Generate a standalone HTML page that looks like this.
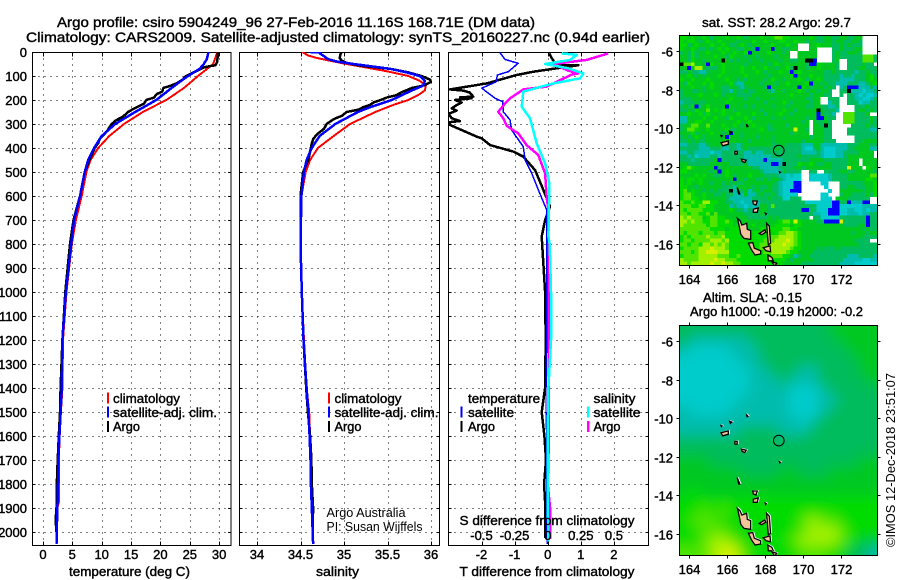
<!DOCTYPE html>
<html lang="en">
<head>
<meta charset="utf-8">
<title>Argo profile csiro 5904249_96</title>
<style>
html,body{margin:0;padding:0;background:#fff;}
svg{display:block;font-family:"Liberation Sans",sans-serif;}
text{fill:#000;font-size:13px;font-weight:normal;stroke:#000;stroke-width:0.4px;}
.thin{font-weight:normal;font-size:13px;stroke:none;}
.tick{font-size:13px;}
</style>
</head>
<body>
<svg id="chart" xmlns="http://www.w3.org/2000/svg" width="900" height="580" viewBox="0 0 900 580">
<defs>
<clipPath id="clip-t"><rect x="32.5" y="52" width="198.5" height="493"/></clipPath>
<clipPath id="clip-s"><rect x="239.5" y="52" width="200" height="493"/></clipPath>
<clipPath id="clip-d"><rect x="448.5" y="52" width="200" height="493"/></clipPath>
<clipPath id="clip-m1"><rect x="679.5" y="35.5" width="198" height="230"/></clipPath>
<clipPath id="clip-m2"><rect x="679.5" y="325.5" width="198" height="230"/></clipPath>
<filter id="smooth" filterUnits="userSpaceOnUse" x="640" y="290" width="280" height="300"><feGaussianBlur stdDeviation="7"/></filter>
</defs>

<text x="57" y="27" style="font-size:14px" textLength="478" lengthAdjust="spacingAndGlyphs">Argo profile: csiro 5904249_96 27-Feb-2016 11.16S 168.71E (DM data)</text>
<text x="26" y="42" style="font-size:14px" textLength="624" lengthAdjust="spacingAndGlyphs">Climatology: CARS2009. Satellite-adjusted climatology: synTS_20160227.nc (0.94d earlier)</text>

<g id="panel-temperature"></g>
<g id="panel-salinity"></g>
<g id="panel-difference"></g>
<g id="map-sst"></g>
<g id="map-sla"></g>

<text x="69" y="576" textLength="121" lengthAdjust="spacingAndGlyphs">temperature (deg C)</text>
<text x="316" y="576" textLength="43" lengthAdjust="spacingAndGlyphs">salinity</text>
<text x="459.5" y="576" textLength="175" lengthAdjust="spacingAndGlyphs">T difference from climatology</text>
<text x="459.5" y="525" textLength="175" lengthAdjust="spacingAndGlyphs">S difference from climatology</text>

<g>
<rect x="107" y="392.5" width="2" height="11" fill="#f00"/>
<text x="113" y="403" textLength="67" lengthAdjust="spacingAndGlyphs">climatology</text>
<rect x="107" y="406.5" width="2" height="11" fill="#00f"/>
<text x="113" y="417" textLength="104" lengthAdjust="spacingAndGlyphs">satellite-adj. clim.</text>
<rect x="107" y="421" width="2" height="11" fill="#000"/>
<text x="113" y="431" textLength="27" lengthAdjust="spacingAndGlyphs">Argo</text>
</g>
<g>
<rect x="328" y="392.5" width="2" height="11" fill="#f00"/>
<text x="334.5" y="403" textLength="67" lengthAdjust="spacingAndGlyphs">climatology</text>
<rect x="328" y="406.5" width="2" height="11" fill="#00f"/>
<text x="334.5" y="417" textLength="104" lengthAdjust="spacingAndGlyphs">satellite-adj. clim.</text>
<rect x="328" y="421" width="2" height="11" fill="#000"/>
<text x="334.5" y="431" textLength="27" lengthAdjust="spacingAndGlyphs">Argo</text>
</g>
<g>
<text x="468" y="403" textLength="72" lengthAdjust="spacingAndGlyphs">temperature</text>
<rect x="460.5" y="406.5" width="2" height="11" fill="#00f"/>
<text x="468" y="417" textLength="46" lengthAdjust="spacingAndGlyphs">satellite</text>
<rect x="460.5" y="421" width="2" height="11" fill="#000"/>
<text x="468" y="431" textLength="27" lengthAdjust="spacingAndGlyphs">Argo</text>
<text x="593.5" y="403" textLength="42" lengthAdjust="spacingAndGlyphs">salinity</text>
<rect x="587" y="406.5" width="2.5" height="11" fill="#0ff"/>
<text x="593.5" y="417" textLength="47" lengthAdjust="spacingAndGlyphs">satellite</text>
<rect x="587" y="421" width="2.5" height="11" fill="#f0f"/>
<text x="593.5" y="431" textLength="27" lengthAdjust="spacingAndGlyphs">Argo</text>
</g>

<text class="thin" x="326.5" y="517" textLength="79" lengthAdjust="spacingAndGlyphs">Argo Australia</text>
<text class="thin" x="326.5" y="531" textLength="96" lengthAdjust="spacingAndGlyphs">PI: Susan Wijffels</text>

<text x="702" y="27" textLength="149" lengthAdjust="spacingAndGlyphs">sat. SST: 28.2 Argo: 29.7</text>
<text x="703" y="302" textLength="99" lengthAdjust="spacingAndGlyphs">Altim. SLA: -0.15</text>
<text x="690" y="316" textLength="173" lengthAdjust="spacingAndGlyphs">Argo h1000: -0.19 h2000: -0.2</text>
<text class="thin" transform="translate(895,547) rotate(-90)" textLength="174" lengthAdjust="spacingAndGlyphs">©IMOS 12-Dec-2018 23:51:07</text>
</svg>

<script>
/* ---------- profile data ---------- */
const depthTicks = [0,100,200,300,400,500,600,700,800,900,1000,1100,1200,1300,1400,1500,1600,1700,1800,1900,2000];
const tempTicks = [0,5,10,15,20,25,30];
const salTicks = [34,34.5,35,35.5,36];
const salTickLabels = ['34','34.5','35','35.5','36'];
const tDiffTicks = [-2,-1,0,1,2];
const sDiffTicks = [-0.5,-0.25,0,0.25,0.5];
const sDiffTickLabels = ['-0.5','-0.25','0','0.25','0.5'];

const tempClimDepth = [0,50,100,150,200,250,300,350,400,450,500,600,700,800,1000,1200,1400,1500,1600,1700,1800,1870,1900,2000,2050];
const tempClim = [29.7,29.0,26.4,24,21,17,13.8,11.3,9.4,8.1,7.4,6.6,5.6,4.9,4.0,3.4,3.3,3.05,2.85,2.7,2.75,2.75,2.45,2.33,2.3];
const tempSatDepth = [0,30,50,70,100,130,150,200,250,300,350,400,450,500,600,700,800,1000,1200,1400,1500,1600,1700,1800,1900,2000,2050];
const tempSat = [28.2,27.9,27.4,26.7,24.7,23,21.9,19.3,15.7,12.3,10,8.7,7.7,7.1,6.3,5.3,4.8,3.9,3.3,3.2,3.0,2.8,2.6,2.55,2.45,2.33,2.3];
const tempArgoDepth = [0,40,55,60,65,80,100,115,130,140,150,165,175,190,200,215,230,240,250,270,285,300,315,330,345,360,380,400,450,500,600,700,800,1000,1200,1400,1500,1600,1700,1800,1900,1950,2000];
const tempArgo = [29.8,29.7,29.4,28.2,27.3,26.1,24.4,23.8,22.8,21.8,20.5,20.3,19.4,18.9,17.6,17.2,16,15.2,14.5,13.6,12.4,11.7,11.3,10.9,10.3,9.7,9.4,8.8,7.9,7.1,6.3,5.2,4.6,3.8,3.3,3.0,2.9,2.7,2.5,2.35,2.3,2.15,2.3];

const salClimDepth = [0,15,25,35,50,65,80,100,120,140,160,180,200,220,250,300,350,400,450,500,600,800,1000,1200,1400,1500,1600,1800,1900,2000,2050];
const salClim = [34.52,34.59,34.69,34.82,35.03,35.26,35.49,35.74,35.87,35.94,35.93,35.85,35.74,35.57,35.36,35.07,34.88,34.7,34.61,34.56,34.51,34.5,34.515,34.54,34.57,34.6,34.61,34.625,34.635,34.645,34.645];
const salSatDepth = [0,1,5,30,40,50,70,85,100,120,140,160,200,230,250,300,350,400,450,500,600,800,1000,1200,1400,1500,1600,1700,1800,1900,2000,2050];
const salSat = [34.61,34.72,34.72,34.82,34.92,35.11,35.53,35.72,35.87,35.93,35.91,35.78,35.55,35.3,35.16,34.9,34.72,34.63,34.57,34.54,34.51,34.5,34.515,34.535,34.57,34.59,34.605,34.615,34.62,34.63,34.64,34.645];
const salArgoDepth = [0,10,25,35,45,55,60,70,85,100,115,125,140,150,165,180,190,200,210,220,230,240,250,265,280,300,320,340,360,380,450,500,600,800,1000,1200,1400,1500,1600,1700,1800,1900,2000];
const salArgo = [34.97,34.96,34.95,34.97,35.03,35.16,35.26,35.53,35.74,35.89,35.99,36.0,35.91,35.78,35.68,35.6,35.49,35.42,35.34,35.3,35.22,35.17,35.03,34.98,34.88,34.8,34.77,34.7,34.65,34.63,34.59,34.53,34.5,34.5,34.515,34.535,34.565,34.585,34.61,34.625,34.63,34.645,34.64];

const tDiffSatDepth = [3,31,47,82,96,124,151,193,207,249,283,325,394,450,506,575,658,800,1000,1200,1400,1500,1600,2000,2050];
const tDiffSat = [-1.44,-1.29,-0.89,-1.19,-1.52,-1.56,-1.99,-1.59,-1.36,-1.34,-1.14,-1.09,-0.74,-0.68,-0.48,-0.28,-0.03,-0.02,-0.03,-0.03,-0.05,-0.05,-0.03,-0.02,-0.02];
const tDiffArgoDepth = [6,26,54,55,68,82,96,131,156,161,169,186,189,193,200,211,221,235,244,258,276,288,293,304,353,360,388,415,436,492,575,644,700,769,1000,1200,1400,1500,1600,1700,1800,1900,2000,2025];
const tDiffArgo = [0.05,0.12,0.27,0.93,0.27,-0.43,-0.94,-1.84,-2.95,-2.55,-2.35,-2.25,-2.65,-2.3,-2.8,-2.6,-2.75,-2.9,-2.75,-3.0,-2.9,-2.65,-3.0,-2.95,-2.14,-1.99,-1.74,-1.04,-0.74,-0.38,-0.13,0.07,-0.08,-0.18,-0.08,-0.06,-0.08,-0.18,-0.1,-0.05,-0.11,-0.07,-0.08,-0.08];
const sDiffArgoDepth = [6,33,50,78,89,94,144,156,193,214,249,276,308,339,388,429,506,603,658,769,1000,1400,1500,1600,1700,1800,1900,2000,2030];
const sDiffArgo = [0.458,0.295,0.043,0.156,0.232,0.181,-0.008,-0.184,-0.285,-0.322,-0.373,-0.335,-0.31,-0.222,-0.159,-0.071,-0.02,-0.008,0.005,0.006,0.006,0.008,0.008,0.008,0.005,0,0.018,0.018,0.018];
const sDiffSatDepth = [6,12,33,50,68,89,110,131,165,228,276,381,464,547,769,800,1000,1200,1400,1600,1900,2000,2040];
const sDiffSat = [0.106,0.219,0.169,-0.02,0.156,0.27,0.244,0.043,-0.184,-0.196,-0.134,-0.083,-0.02,0.013,0.005,0.015,0.025,0.025,0.005,0,0,0.005,0.005];

/* ---------- map data: one digit per cell, 1 cyan ... 8 yellow, 0 blue, # black, . no data ---------- */
const lonTicks = [164,166,168,170,172];
const latTicks = [6,8,10,12,14,16];
const sstRows = [
"5545445434" + "4454454344" + "4544566554" + "4444543344" + "33443344....",
"5455434544" + "5444434445" + "4454445544" + "5443443344" + "34433443....",
"5534544454" + "4543345434" + "4444544454" + "4...445444" + "33434333....",
"5445433434" + "5454433443" + "0444044334" + "4...44...." + "33433344....",
"3435344544" + "4544544504" + "444544434." + ".44444...." + "34334443....",
"4435344445" + "4435444344" + "344443444." + ".44444...." + "343333336663",
"4435443444" + "4#43434434" + "4344443443" + "344##0...." + "34..33336663",
"#6674440544" + "544444344" + "4443454444" + "4443005444" + "43..3333433.",
"4404774333" + "4544445445" + "4454434453" + "#443445444" + "43..33344333",
"3343322344" + "4544445444" + "5434445440" + "4544444433" + "433333233433",
"4454343444" + "5444444544" + "4443444445" + "0444544433" + "332332333453",
"5445444544" + "4454434344" + "4434544344" + "4543445433" + "332222333454",
"4354445454" + "4445322444" + "4344434454" + "4445044343" + "322233322345",
"4445443454" + "4334432344" + "4430444444" + "4054344434" + "3.2300022232",
"3443343444" + "4332433433" + "4443244344" + "4543443443" + "..33#2221223",
"3444454445" + "4344433334" + "4444444445" + "4444344433" + "..3.33212112",
"3334444444" + "4445444344" + "3444344444" + "4443344..3" + "33..33221123",
"2333433444" + "4454444444" + "4434444543" + "4444344..2" + "33..33312233",
"3435034544" + "4404444343" + "4444344434" + "4443344332" + "23....333433",
"3343544645" + "4544344444" + "4344444544" + "344444#433" + "32....344343",
"4454453544" + "4544454445" + "4434445443" + "4444440433" + "2..6663334..",
"2244445445" + "4435444543" + "4444344344" + "4443440043" + "3..666333343",
"2244554454" + "4444454454" + "4444444444" + "4434.43343" + "...666333343",
"3446644644" + "4544543445" + "4443444434" + "4444.443#3" + ".....3333433",
"3466544544" + "4453344444" + "4543344444" + "8443.44433" + "....33333322",
"4445344454" + "4340443444" + "4444444443" + "4444.44433" + "....33333333",
"3434543444" + "4404443444" + "3444344444" + "4444344433" + "......333333",
"3343433444" + "4444444434" + "4444344444" + "4434444433" + "3.....334444",
"2233322344" + "4433323444" + "4444334433" + "3322244222" + "222233344433",
"3333322233" + "3223323433" + "3333343333" + "3321134211" + "122233444422",
"2233222212" + "2333233223" + "2233333333" + "3322223211" + "12233334444.",
"3323122233" + "2333333222" + "2222333333" + "3433333211" + "12234444444.",
"3332333334" + "0333333222" + "2202222333" + "3333444433" + "3333444.4444",
"4433333344" + "4443333422" + "2222002#33" + "3544543344" + "3333444.4444",
"4565444440" + "3444444443" + "3222223333" + "4434444444" + "33338444.544",
"5544444434" + "0454444444" + "4322222433" + "33..33..33" + "334433444443",
"4444545443" + "3454344454" + "4433332212" + "11..111112" + "333344444466",
"5455454444" + "4444044344" + "3343443211" + "11..111112" + "333344444554",
"5454454434" + "4343433444" + "4444432111" + "00.....11." + "..3333334445",
"5544344444" + "4333244443" + "4334332111" + "00......1." + "..3344333445",
"5645443434" + "333#233423" + "4344332110" + "00.......1" + "..4444443445",
"5665445443" + "3433222422" + "3433432111" + "1......11." + "..3443333435",
"5665545444" + "4432222223" + "3334333113" + "33.....111" + ".444333333..",
"6556557755" + "4433221221" + "2333333333" + "3331111111" + "0033022200..",
"6665566554" + "4442322122" + "2443633333" + "3333331111" + "001111112222",
"6566665554" + "4445433232" + "3443333333" + "3300331110" + "001122112122",
"6656655646" + "4444444333" + "3433333333" + "3333322110" + "001122212233",
"7676664566" + "5544444433" + "3334343333" + "3333.33111" + "113333333033",
"7767665566" + "5565444444" + "4444445665" + "8544443300" + "008333333033",
"7666666566" + "5555455545" + "4444455554" + "5544444444" + "444333344033",
"6666666655" + "5545555544" + "4555555665" + "5444444444" + "444444443433",
"6566656665" + "6655554455" + "5555556677" + "6544444444" + "444443444344",
"5656666766" + "6755554555" + "5556667777" + "6544444444" + "444444443333",
"5665666677" + "7675555555" + "5566677787" + "6544444444" + "4444443333..",
"6656657767" + "6765555555" + "5667777877" + "6544444444" + "444444433333",
"5666677787" + "7765555555" + "5667777776" + "5544443433" + "343333333333",
"6665677888" + "7775555555" + "5566777765" + "5444433333" + "333333333333",
"5666677777" + "6665565555" + "5555666554" + "2344333333" + "333322233332",
"7666677778" + "7766655555" + "5555555543" + "4444433333" + "333222221122",
"7767777787" + "7877665555" + "5555555444" + "4433333333" + "332222111111"
];
const slaRows = [
"33333333333333344444",
"32222223333333334444",
"21111222333333333444",
"11111122333333333344",
"11111112233322333344",
"11111112223222333334",
"11111112222111233333",
"11111122222111223333",
"21111222222111233333",
"22222222222212333333",
"22222233332223333333",
"33333333333333333333",
"33333333333333333333",
"44433333333333333344",
"44444433334433344444",
"44444444444444444444",
"45444444444444444444",
"55555555555555555555",
"55656555555555555555",
"56665555555567665555",
"55666555555567776555",
"55677655555677776544",
"66678865555566655332"
];
/* coastlines as lon / deg-south rings */
const islandRings = [
[[166.53,14.67],[166.67,14.79],[166.77,15.02],[167.02,14.93],[167.05,15.24],[167.23,15.31],[167.23,15.76],[166.88,15.71],[166.71,15.5],[166.63,15.1]],
[[167.11,15.96],[167.34,15.93],[167.42,16.22],[167.76,16.35],[167.76,16.52],[167.46,16.57],[167.28,16.31]],
[[167.68,15.45],[167.98,15.27],[168.02,15.39],[167.81,15.52]],
[[168.07,14.93],[168.21,15.07],[168.28,15.96],[168.16,16.05],[168.11,15.45]],
[[167.89,16.19],[168.25,16.1],[168.28,16.4],[168.04,16.35]],
[[168.13,16.57],[168.34,16.69],[168.42,16.87],[168.16,16.87]],
[[168.35,16.92],[168.6,17.0],[168.5,17.15]],
[[165.67,10.75],[166.05,10.66],[166.05,10.83],[165.76,10.91]],
[[166.74,11.6],[167.0,11.66],[166.92,11.78],[166.78,11.72]],
[[167.34,13.77],[167.58,13.77],[167.51,13.98],[167.37,13.93]],
[[167.37,14.2],[167.63,14.13],[167.58,14.36],[167.37,14.36]],
[[166.4,11.2],[166.52,11.2],[166.52,11.34],[166.4,11.34]],
[[167.0,9.8],[167.09,9.9],[167.04,9.92]],
[[166.12,10.16],[166.24,10.2],[166.17,10.27]],
[[165.67,10.38],[165.73,10.4],[165.69,10.44]],
[[166.52,13.07],[166.66,13.41],[166.6,13.41]],
[[168.0,14.4],[168.06,14.43],[168.02,14.47]],
[[168.75,12.26],[168.8,12.28],[168.77,12.31]]
];
const argoLon = 168.71;
const argoLat = 11.16;

/* ---------- scales ---------- */
const NS = 'http://www.w3.org/2000/svg';
const yDepth = d => 52 + d * 0.24;
const xTemp = v => 43 + v * 5.87;
const xSal = v => 257 + (v - 34) * 87;
const xTDiff = v => 547.7 + v * 33.1;
const xSDiff = v => 547.7 + v * 132.4;
const xLon = v => 689.3 + (v - 164) * 19;
const yLat1 = v => 51 + (v - 6) * 19.3;
const yLat2 = v => 341 + (v - 6) * 19.3;
const levelColors = ['#0000ff','#00cccc','#00bcac','#00bc5c','#00c820','#00dc00','#50e400','#a0f000','#d8f000'];

function make(tag, parent, props, txt) {
  const el = document.createElementNS(NS, tag);
  for (const k in props) el.setAttribute(k, props[k]);
  if (txt !== undefined) el.textContent = txt;
  parent.appendChild(el);
  return el;
}

function drawLine(parent, depths, vals, xf, color, width, name) {
  const pts = depths.map((d, i) => xf(vals[i]).toFixed(1) + ',' + yDepth(d).toFixed(1)).join(' ');
  const el = make('polyline', parent, {points: pts, fill: 'none', stroke: color, 'stroke-width': width, 'stroke-linejoin': 'round'});
  
  
}

function drawFrame(g, box, xTicks, xf) {
  const L = box.x, R = box.x + box.w, T = box.y, B = box.y + box.h;
  depthTicks.forEach(d => {
    const y = Math.round(yDepth(d)) + 0.5;
    const el = make('line', g, {x1: L, x2: R, y1: y, y2: y, stroke: '#000', 'stroke-width': 1, 'stroke-dasharray': '1 5', 'shape-rendering': 'crispEdges'});
    
    
    const t1 = make('path', g, {d: `M${L} ${y}h3M${R} ${y}h-3`, stroke: '#000', fill: 'none', 'shape-rendering': 'crispEdges'});
    
    
  });
  xTicks.forEach(v => {
    const x = Math.round(xf(v)) + 0.5;
    const el = make('line', g, {x1: x, x2: x, y1: T, y2: B, stroke: '#000', 'stroke-width': 1, 'stroke-dasharray': '1 5', 'shape-rendering': 'crispEdges'});
    
    
    const t1 = make('path', g, {d: `M${x} ${B}v-4M${x} ${T}v4`, stroke: '#000', fill: 'none', 'shape-rendering': 'crispEdges'});
    
    
  });
  const fr = make('rect', g, {x: L, y: T, width: box.w, height: box.h, fill: 'none', stroke: '#000', 'stroke-width': 1, 'shape-rendering': 'crispEdges'});
  
  
}

function drawXLabels(g, ticks, labels, xf, y, name) {
  ticks.forEach((v, i) => {
    const el = make('text', g, {x: xf(v).toFixed(1), y: y, 'text-anchor': 'middle', class: 'tick'}, labels[i]);
    
    
  });
}

/* temperature panel */
const gT = document.getElementById('panel-temperature');
drawFrame(gT, {x: 32.5, y: 52.5, w: 198.5, h: 493}, tempTicks, xTemp);
const clipT = make('g', gT, {'clip-path': 'url(#clip-t)', 'shape-rendering': 'crispEdges'});
drawLine(clipT, tempClimDepth, tempClim, xTemp, '#f00', 2, 'temperature-climatology-line');
drawLine(clipT, tempArgoDepth, tempArgo, xTemp, '#000', 2.5, 'temperature-argo-line');
drawLine(clipT, tempSatDepth, tempSat, xTemp, '#00f', 2.5, 'temperature-satellite-line');
drawXLabels(gT, tempTicks, tempTicks.map(String), xTemp, 559, 'temperature-tick-label');
depthTicks.forEach(d => {
  const el = make('text', gT, {x: 27, y: yDepth(d) + 5, 'text-anchor': 'end'}, String(d));
  
  
});

/* salinity panel */
const gS = document.getElementById('panel-salinity');
drawFrame(gS, {x: 239.5, y: 52.5, w: 200, h: 493}, salTicks, xSal);
const clipS = make('g', gS, {'clip-path': 'url(#clip-s)', 'shape-rendering': 'crispEdges'});
drawLine(clipS, salClimDepth, salClim, xSal, '#f00', 2, 'salinity-climatology-line');
drawLine(clipS, salArgoDepth, salArgo, xSal, '#000', 2.5, 'salinity-argo-line');
drawLine(clipS, salSatDepth, salSat, xSal, '#00f', 2.5, 'salinity-satellite-line');
drawXLabels(gS, salTicks, salTickLabels, xSal, 559, 'salinity-tick-label');

/* difference panel */
const gD = document.getElementById('panel-difference');
drawFrame(gD, {x: 448.5, y: 52.5, w: 200, h: 493}, tDiffTicks, xTDiff);
const clipD = make('g', gD, {'clip-path': 'url(#clip-d)', 'shape-rendering': 'crispEdges'});
drawLine(clipD, tDiffArgoDepth, tDiffArgo, xTDiff, '#000', 2.5, 't-difference-argo-line');
drawLine(clipD, tDiffSatDepth, tDiffSat, xTDiff, '#00f', 1.5, 't-difference-satellite-line');
drawLine(clipD, sDiffArgoDepth, sDiffArgo, xSDiff, '#f0f', 2.5, 's-difference-argo-line');
drawLine(clipD, sDiffSatDepth, sDiffSat, xSDiff, '#0ff', 2.5, 's-difference-satellite-line');
drawXLabels(gD, tDiffTicks, tDiffTicks.map(String), xTDiff, 559, 't-difference-tick-label');
drawXLabels(gD, sDiffTicks, sDiffTickLabels, xSDiff, 540, 's-difference-tick-label');

/* maps */
function drawIslands(g, yf, halo) {
  islandRings.forEach(ring => {
    const pts = ring.map(p => xLon(p[0]).toFixed(1) + ',' + yf(p[1]).toFixed(1)).join(' ');
    if (halo) {
      const h = make('polygon', g, {points: pts, fill: '#fff', stroke: '#fff', 'stroke-width': 1, transform: 'translate(1,-0.5)'});
      
      
    }
    const el = make('polygon', g, {points: pts, fill: '#f4c49a', stroke: '#000', 'stroke-width': 1.3});
    
    
  });
}
function drawMapFrame(g, top, yf, xLabelY) {
  const L = 679.5, R = 877.5, T = top, B = top + 230;
  const fr = make('rect', g, {x: L, y: T, width: 198, height: 230, fill: 'none', stroke: '#000', 'shape-rendering': 'crispEdges'});
  
  
  lonTicks.forEach(v => {
    const x = Math.round(xLon(v)) + 0.5;
    const t = make('path', g, {d: `M${x} ${T}v-3M${x} ${B}v3`, stroke: '#000', fill: 'none', 'shape-rendering': 'crispEdges'});
    
    
    const el = make('text', g, {x: x, y: xLabelY, 'text-anchor': 'middle', class: 'tick'}, String(v));
    
    
  });
  latTicks.forEach(v => {
    const y = Math.round(yf(v)) + 0.5;
    const t = make('path', g, {d: `M${L} ${y}h-3M${R} ${y}h3`, stroke: '#000', fill: 'none', 'shape-rendering': 'crispEdges'});
    
    
    const el = make('text', g, {x: 673, y: y + 5, 'text-anchor': 'end', class: 'tick'}, '-' + v);
    
    
  });
}
function drawMarker(g, yf) {
  const el = make('circle', g, {cx: xLon(argoLon).toFixed(1), cy: yf(argoLat).toFixed(1), r: 5.3, fill: 'none', stroke: '#000', 'stroke-width': 1});
  
  
}

const gM1 = document.getElementById('map-sst');
const cells1 = make('g', gM1, {'clip-path': 'url(#clip-m1)', 'shape-rendering': 'crispEdges'});
const cw1 = 198 / 52, ch1 = 230 / 60;
sstRows.forEach((row, r) => {
  for (let c = 0; c < 52; c++) {
    const code = row[c] || '.';
    if (code === '.') continue;
    const color = code === '#' ? '#000' : levelColors[+code];
    const el = make('rect', cells1, {x: (679.5 + c * cw1).toFixed(2), y: (35.5 + r * ch1).toFixed(2), width: (cw1 + 0.3).toFixed(2), height: (ch1 + 0.3).toFixed(2), fill: color});
    
    
  }
});
const land1 = make('g', gM1, {'clip-path': 'url(#clip-m1)'});
drawIslands(land1, yLat1, false);
drawMarker(gM1, yLat1);
drawMapFrame(gM1, 35.5, yLat1, 284);

const gM2 = document.getElementById('map-sla');
const clip2 = make('g', gM2, {'clip-path': 'url(#clip-m2)'});
const cells2 = make('g', clip2, {filter: 'url(#smooth)'});
const cw2 = 198 / 20, ch2 = 230 / 23;
slaRows.forEach((row, r) => {
  for (let c = 0; c < 20; c++) {
    const pad = 24;
    const x = 679.5 + c * cw2 - (c === 0 ? pad : 0);
    const y = 325.5 + r * ch2 - (r === 0 ? pad : 0);
    const w = cw2 + 0.5 + (c === 0 || c === 19 ? pad : 0);
    const h = ch2 + 0.5 + (r === 0 || r === 22 ? pad : 0);
    const el = make('rect', cells2, {x: x.toFixed(2), y: y.toFixed(2), width: w.toFixed(2), height: h.toFixed(2), fill: levelColors[+row[c]]});
    
    
  }
});
drawIslands(clip2, yLat2, true);
drawMarker(gM2, yLat2);
drawMapFrame(gM2, 325.5, yLat2, 574);
</script>
</body>
</html>
